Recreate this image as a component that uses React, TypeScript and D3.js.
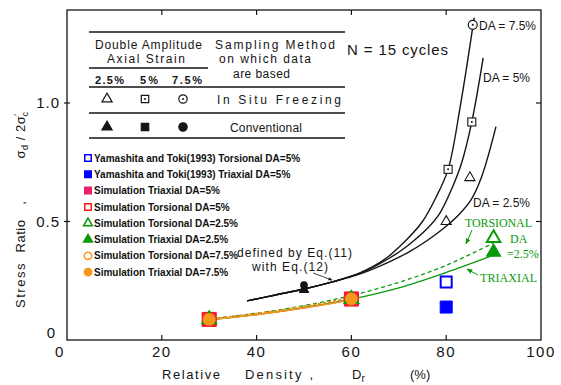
import React from "react";
import * as d3 from "d3";

// Axis ticks
const xTickValues = [0, 20, 40, 60, 80, 100];
const xTickLabels = ["0", "20", "40", "60", "80", "100"];
const yTickValues = [0.5, 1.0];
const yTickLabels = ["0.5", "1.0"];

// Eq.(11) curves for N = 15 cycles (Dr %, stress ratio)
const curveDA75Dr = [38, 44, 50, 56, 62, 67, 71, 75, 77.8, 80.4, 83, 85.9];
const curveDA75 = [0.165, 0.19, 0.215, 0.245, 0.285, 0.34, 0.41, 0.5, 0.6, 0.72, 0.99, 1.36];
const curveDA5Dr = [38, 44, 50, 56, 62, 68, 72, 76, 78.5, 81, 83.3, 85.4, 87.8];
const curveDA5 = [0.165, 0.19, 0.215, 0.245, 0.283, 0.345, 0.4, 0.47, 0.53, 0.63, 0.75, 0.92, 1.19];
const curveDA25Dr = [38, 44, 50, 56, 62, 68, 72, 76, 80, 82.5, 85.2, 87.5, 90.5];
const curveDA25 = [0.165, 0.19, 0.215, 0.245, 0.28, 0.33, 0.37, 0.42, 0.48, 0.525, 0.59, 0.69, 0.9];

// In situ freezing test data
const insituTriDr = [80, 85];
const insituTri = [0.5, 0.685];
const insituSqDr = [80.4, 85.4];
const insituSq = [0.72, 0.92];
const insituCirDr = [85.6];
const insituCir = [1.33];

// Conventional sampling data
const convDr = [50];
const convCircle = [0.232];
const convSquare = [0.222];
const convTriangle = [0.212];

// Yamashita and Toki (1993)
const yamaDr = [80];
const yamaTorsional5 = [0.245];
const yamaTriaxial5 = [0.139];

// Simulation results
const simDr = [30, 60];
const simTriaxial5 = [0.087, 0.173];
const simTorsional5 = [0.087, 0.173];
const simDr25 = [30, 60, 90];
const simTorsional25 = [0.087, 0.173, 0.43];
const simTriaxial25 = [0.087, 0.173, 0.371];
const simTorsional75 = [0.087, 0.173];
const simTriaxial75 = [0.087, 0.173];

// Fitted simulation curves
const fitDr = [30, 40, 50, 60, 70, 80, 90];
const fitTorsional25 = [0.088, 0.113, 0.145, 0.188, 0.243, 0.315, 0.41];
const fitTriaxial25 = [0.086, 0.108, 0.137, 0.172, 0.22, 0.285, 0.358];
const fitDr75 = [30, 40, 50, 60];
const fitTorsional75 = [0.088, 0.112, 0.142, 0.178];
const fitTriaxial75 = [0.086, 0.107, 0.135, 0.17];

const legendItems = [
  { label: "Yamashita and Toki(1993) Torsional DA=5%", shape: "square", color: "#0000ff", filled: false },
  { label: "Yamashita and Toki(1993) Triaxial DA=5%", shape: "square", color: "#0000ff", filled: true },
  { label: "Simulation Triaxial DA=5%", shape: "square", color: "#ec1f6a", filled: true },
  { label: "Simulation Torsional DA=5%", shape: "square", color: "#ff1a1a", filled: false },
  { label: "Simulation Torsional DA=2.5%", shape: "triangle", color: "#0a9a0a", filled: false },
  { label: "Simulation Triaxial DA=2.5%", shape: "triangle", color: "#0a9a0a", filled: true },
  { label: "Simulation Torsional DA=7.5%", shape: "circle", color: "#f7981d", filled: false },
  { label: "Simulation Triaxial DA=7.5%", shape: "circle", color: "#f7981d", filled: true },
];

const GREEN = "#0a9a0a";
const ORANGE = "#f7981d";
const INK = "#151515";
const FONT = "'Liberation Sans', Arial, sans-serif";
const SERIF = "'Liberation Serif', 'Times New Roman', serif";

const x = d3.scaleLinear().domain([0, 100]).range([67, 541]);
const y = d3.scaleLinear().domain([0, 1]).range([340, 103]);
const TOP = 10;

const zip = (xs: number[], ys: number[]) => xs.map((v, i) => [v, ys[i]] as [number, number]);

const smooth = d3
  .line<[number, number]>()
  .x((d) => x(d[0]))
  .y((d) => y(d[1]))
  .curve(d3.curveCatmullRom.alpha(0.5));

const symbolTypes: Record<string, d3.SymbolType> = {
  square: d3.symbolSquare,
  triangle: d3.symbolTriangle,
  circle: d3.symbolCircle,
};

function Marker({ cx, cy, shape, size, color, filled, sw = 1.5 }: any) {
  const d = d3.symbol().type(symbolTypes[shape]).size(size)() as string;
  return (
    <path
      d={d}
      transform={`translate(${cx},${cy})`}
      fill={filled ? color : "none"}
      stroke={color}
      strokeWidth={sw}
    />
  );
}

export default function App() {
  const tableLines = [
    { y: 32, x1: 89, x2: 345 },
    { y: 68, x1: 89, x2: 208 },
    { y: 87, x1: 89, x2: 345 },
    { y: 113, x1: 89, x2: 345 },
    { y: 138, x1: 89, x2: 345 },
  ];
  const tableCols = [107, 145, 183];
  const tableShapes = ["triangle", "square", "circle"];
  const tableSizes = [45, 55, 55];

  return (
    <svg
      width={561}
      height={385}
      style={{ position: "absolute", left: 0, top: 0, background: "#fff" }}
      fontFamily={FONT}
    >
      <defs>
        <marker id="arrG" viewBox="0 0 10 10" refX="9" refY="5" markerWidth="6" markerHeight="6" orient="auto">
          <path d="M0,1 L10,5 L0,9 z" fill={GREEN} />
        </marker>
        <marker id="arrK" viewBox="0 0 10 10" refX="9" refY="5" markerWidth="5" markerHeight="5" orient="auto">
          <path d="M0,1 L10,5 L0,9 z" fill={INK} />
        </marker>
      </defs>

      {/* frame */}
      <rect x={x(0)} y={TOP} width={x(100) - x(0)} height={y(0) - TOP} fill="none" stroke={INK} strokeWidth={1.3} />

      {/* ticks */}
      {xTickValues.slice(1, -1).map((v) => (
        <g key={"xt" + v} stroke={INK} strokeWidth={1.2}>
          <line x1={x(v)} x2={x(v)} y1={y(0)} y2={y(0) - 5} />
          <line x1={x(v)} x2={x(v)} y1={TOP} y2={TOP + 5} />
        </g>
      ))}
      {yTickValues.map((v) => (
        <g key={"yt" + v} stroke={INK} strokeWidth={1.2}>
          <line x1={x(0) - 3} x2={x(0) + 3} y1={y(v)} y2={y(v)} />
          <line x1={x(100)} x2={x(100) - 5} y1={y(v)} y2={y(v)} />
        </g>
      ))}

      {/* tick labels */}
      {xTickValues.map((v, i) => (
        <text
          key={"xl" + v}
          x={i === 0 ? x(v) - 7 : x(v)}
          y={357}
          fontSize={15}
          textAnchor="middle"
          letterSpacing={1.5}
          fill={INK}
        >
          {xTickLabels[i]}
        </text>
      ))}
      {yTickValues.map((v, i) => (
        <text key={"yl" + v} x={60} y={y(v) + 5} fontSize={15} textAnchor="end" letterSpacing={1} fill={INK}>
          {yTickLabels[i]}
        </text>
      ))}
      <text x={51} y={y(0) - 2} fontSize={15} textAnchor="middle" fill={INK}>
        0
      </text>

      {/* axis titles */}
      <g fontSize={13} fill={INK}>
        <text x={162} y={379} textLength={58} lengthAdjust="spacing">Relative</text>
        <text x={245} y={379} textLength={68} lengthAdjust="spacing">Density ,</text>
        <text x={352} y={379}>
          D<tspan fontSize={10} dy={3}>r</tspan>
        </text>
        <text x={410} y={379}>(%)</text>
      </g>
      <g transform="translate(25,0) rotate(-90)" fontSize={13} fill={INK} textAnchor="middle">
        <text x={-285} y={0} letterSpacing={1.5}>Stress</text>
        <text x={-236} y={0} letterSpacing={0.5}>Ratio</text>
        <text x={-203} y={0}>,</text>
        <text x={-135} y={0} letterSpacing={0.5}>
          σ<tspan fontSize={9} dy={3}>d</tspan>
          <tspan dy={-3}> / 2σ</tspan>
          <tspan fontSize={9} dy={-5}>′</tspan>
          <tspan fontSize={9} dy={8} dx={-3}>c</tspan>
        </text>
      </g>

      {/* table of symbols */}
      {tableLines.map((l, i) => (
        <line key={"tl" + i} x1={l.x1} x2={l.x2} y1={l.y} y2={l.y} stroke={INK} strokeWidth={1.4} />
      ))}
      <g fontSize={12} fill={INK}>
        <text x={95} y={49} textLength={107} lengthAdjust="spacing">Double Amplitude</text>
        <text x={107} y={63} textLength={78} lengthAdjust="spacing">Axial Strain</text>
        <text x={215} y={49} textLength={120} lengthAdjust="spacing">Sampling Method</text>
        <text x={219} y={63} textLength={92} lengthAdjust="spacing">on which data</text>
        <text x={233} y={78} textLength={57} lengthAdjust="spacing">are based</text>
        <text x={95} y={84} textLength={29} lengthAdjust="spacing" fontWeight="bold" fontSize={11}>2.5%</text>
        <text x={140} y={84} textLength={18} lengthAdjust="spacing" fontWeight="bold" fontSize={11}>5%</text>
        <text x={172} y={84} textLength={30} lengthAdjust="spacing" fontWeight="bold" fontSize={11}>7.5%</text>
        <text x={217} y={104} textLength={124} lengthAdjust="spacing">In Situ Freezing</text>
        <text x={230} y={132} textLength={72} lengthAdjust="spacing">Conventional</text>
      </g>
      {tableCols.map((cx, i) => (
        <g key={"ts" + i}>
          <Marker cx={cx} cy={99} shape={tableShapes[i]} size={tableSizes[i]} color={INK} filled={false} sw={1.2} />
          {i > 0 && <circle cx={cx} cy={99} r={1} fill={INK} />}
          <Marker cx={cx} cy={127} shape={tableShapes[i]} size={tableSizes[i]} color={INK} filled={true} sw={1.2} />
        </g>
      ))}

      <text x={347} y={55} fontSize={15} fill={INK} textLength={101} lengthAdjust="spacing">
        N = 15 cycles
      </text>

      {/* Eq.(11) curves */}
      {[zip(curveDA75Dr, curveDA75), zip(curveDA5Dr, curveDA5), zip(curveDA25Dr, curveDA25)].map((pts, i) => (
        <path key={"c" + i} d={smooth(pts) as string} fill="none" stroke={INK} strokeWidth={1.4} />
      ))}
      <g fontSize={12} fill={INK}>
        <text x={479} y={30}>DA = 7.5%</text>
        <text x={483} y={82}>DA = 5%</text>
        <text x={473} y={207}>DA = 2.5%</text>
      </g>

      {/* in situ and conventional points */}
      {zip(insituTriDr, insituTri).map((p, i) => (
        <Marker key={"it" + i} cx={x(p[0])} cy={y(p[1])} shape="triangle" size={45} color={INK} filled={false} sw={1.1} />
      ))}
      {zip(insituSqDr, insituSq).map((p, i) => (
        <g key={"is" + i}>
          <rect x={x(p[0]) - 4} y={y(p[1]) - 4} width={8} height={8} fill="#fff" stroke={INK} strokeWidth={1.1} />
          <circle cx={x(p[0])} cy={y(p[1])} r={1} fill={INK} />
        </g>
      ))}
      {zip(insituCirDr, insituCir).map((p, i) => (
        <g key={"ic" + i}>
          <circle cx={x(p[0])} cy={y(p[1])} r={4.5} fill="#fff" stroke={INK} strokeWidth={1.2} />
          <circle cx={x(p[0])} cy={y(p[1])} r={1} fill={INK} />
        </g>
      ))}
      {convDr.map((d, i) => (
        <g key={"cv" + i}>
          <Marker cx={x(d)} cy={y(convTriangle[i])} shape="triangle" size={40} color={INK} filled={true} sw={1} />
          <Marker cx={x(d)} cy={y(convSquare[i])} shape="square" size={30} color={INK} filled={true} sw={1} />
          <circle cx={x(d)} cy={y(convCircle[i])} r={3.8} fill={INK} />
        </g>
      ))}

      {/* Eq.(12) note */}
      <g fontSize={12} fill={INK}>
        <text x={237} y={257} textLength={115} lengthAdjust="spacing">defined by Eq.(11)</text>
        <text x={252} y={271} textLength={76} lengthAdjust="spacing">with Eq.(12)</text>
      </g>
      <line x1={313} y1={273} x2={332} y2={280} stroke={INK} strokeWidth={0.8} markerEnd="url(#arrK)" />

      {/* simulation fit curves */}
      <path d={smooth(zip(fitDr75, fitTorsional75)) as string} fill="none" stroke="#ff1a1a" strokeWidth={1.2} strokeDasharray="3,2" />
      <path d={smooth(zip(fitDr75, fitTriaxial75)) as string} fill="none" stroke="#ec1f6a" strokeWidth={1.2} />
      <path d={smooth(zip(fitDr, fitTorsional25)) as string} fill="none" stroke={GREEN} strokeWidth={1.3} strokeDasharray="4,3" />
      <path d={smooth(zip(fitDr, fitTriaxial25)) as string} fill="none" stroke={GREEN} strokeWidth={1.3} />
      <path d={smooth(zip(fitDr75, fitTorsional75)) as string} fill="none" stroke={ORANGE} strokeWidth={1.4} strokeDasharray="3,2" />
      <path d={smooth(zip(fitDr75, fitTriaxial75)) as string} fill="none" stroke={ORANGE} strokeWidth={1.6} />

      {/* Yamashita and Toki points */}
      {yamaDr.map((d, i) => (
        <g key={"ym" + i}>
          <Marker cx={x(d)} cy={y(yamaTorsional5[i])} shape="square" size={121} color="#0000ff" filled={false} sw={2} />
          <Marker cx={x(d)} cy={y(yamaTriaxial5[i])} shape="square" size={144} color="#0000ff" filled={true} sw={1} />
        </g>
      ))}

      {/* simulation points */}
      {simDr.map((d, i) => (
        <g key={"s5" + i}>
          <Marker cx={x(d)} cy={y(simTriaxial5[i])} shape="square" size={196} color="#ec1f6a" filled={true} sw={1} />
          <Marker cx={x(d)} cy={y(simTorsional5[i])} shape="square" size={169} color="#ff1a1a" filled={false} sw={1.5} />
        </g>
      ))}
      {simDr25.map((d, i) => (
        <g key={"s25" + i}>
          <Marker cx={x(d)} cy={y(simTorsional25[i])} shape="triangle" size={80} color={GREEN} filled={false} sw={2} />
          <Marker cx={x(d)} cy={y(simTriaxial25[i])} shape="triangle" size={90} color={GREEN} filled={true} sw={1} />
        </g>
      ))}
      {simDr.map((d, i) => (
        <g key={"s75" + i}>
          <Marker cx={x(d)} cy={y(simTorsional75[i])} shape="circle" size={100} color={ORANGE} filled={false} sw={1.5} />
          <Marker cx={x(d)} cy={y(simTriaxial75[i])} shape="circle" size={85} color={ORANGE} filled={true} sw={1} />
        </g>
      ))}

      {/* green annotations */}
      <g fontFamily={SERIF} fontSize={12} fill={GREEN}>
        <text x={465} y={227} textLength={67} lengthAdjust="spacing">TORSIONAL</text>
        <text x={510} y={243}>DA</text>
        <text x={507} y={258}>=2.5%</text>
        <text x={480} y={282} textLength={57} lengthAdjust="spacing">TRIAXIAL</text>
      </g>
      <line x1={472} y1={230} x2={466} y2={244} stroke={GREEN} strokeWidth={1} markerEnd="url(#arrG)" />
      <line x1={478} y1={275} x2={467} y2={269} stroke={GREEN} strokeWidth={1} markerEnd="url(#arrG)" />

      {/* legend */}
      {legendItems.map((it, i) => {
        const cy = 158 + i * 16.3;
        return (
          <g key={"lg" + i}>
            <Marker
              cx={88}
              cy={cy}
              shape={it.shape}
              size={it.shape === "triangle" ? 34 : 42}
              color={it.color}
              filled={it.filled}
              sw={1.5}
            />
            <text x={94} y={cy + 3.6} fontSize={10} fontWeight="bold" fill="#111">
              {it.label}
            </text>
          </g>
        );
      })}
    </svg>
  );
}
